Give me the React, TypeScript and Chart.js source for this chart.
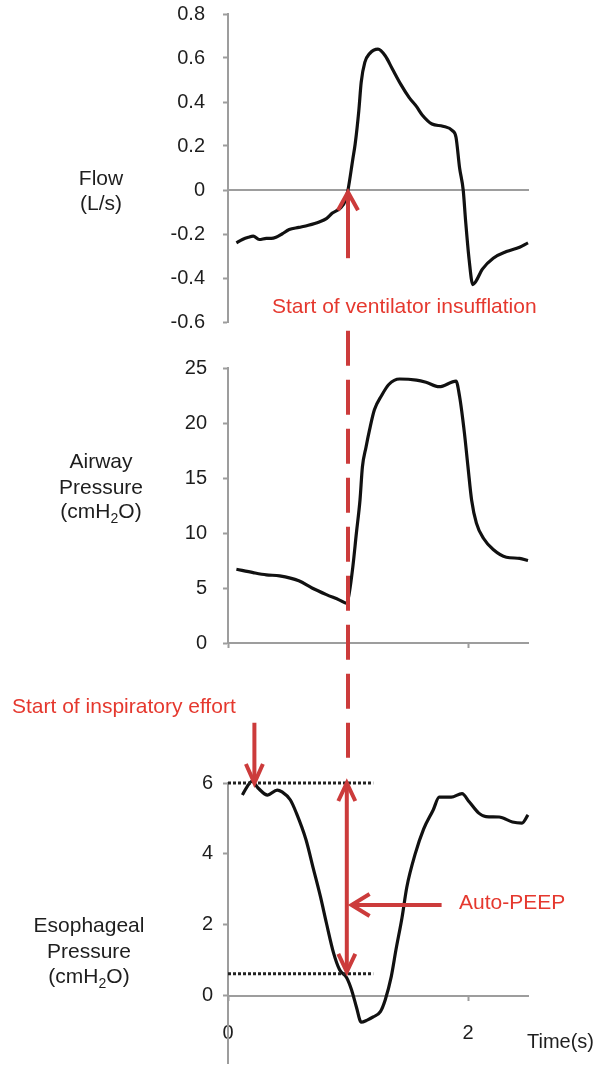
import React, { useEffect, useRef } from "react";
import { Chart, registerables } from "chart.js";

Chart.register(...registerables);

// ---------- data ----------
const flowT = [0.07, 0.12, 0.17, 0.21, 0.26, 0.32, 0.36, 0.4, 0.45, 0.51, 0.59, 0.67, 0.76, 0.82, 0.87, 0.94, 0.98, 1.0, 1.04, 1.06, 1.09, 1.11, 1.14, 1.18, 1.25, 1.31, 1.37, 1.44, 1.51, 1.57, 1.62, 1.7, 1.79, 1.87, 1.9, 1.93, 1.96, 1.98, 2.01, 2.04, 2.06, 2.12, 2.21, 2.32, 2.43, 2.5];
const flowV = [-0.24, -0.225, -0.215, -0.21, -0.225, -0.22, -0.22, -0.215, -0.2, -0.18, -0.17, -0.16, -0.145, -0.13, -0.105, -0.08, -0.045, 0.0, 0.14, 0.21, 0.36, 0.49, 0.58, 0.62, 0.64, 0.61, 0.55, 0.48, 0.42, 0.38, 0.34, 0.3, 0.29, 0.27, 0.24, 0.1, 0.0, -0.14, -0.32, -0.43, -0.42, -0.36, -0.31, -0.28, -0.26, -0.24];

const airT = [0.07, 0.21, 0.32, 0.43, 0.59, 0.7, 0.82, 0.93, 0.99, 1.01, 1.04, 1.07, 1.1, 1.12, 1.15, 1.18, 1.22, 1.28, 1.34, 1.43, 1.57, 1.65, 1.76, 1.9, 1.93, 1.97, 2.0, 2.03, 2.07, 2.13, 2.21, 2.32, 2.43, 2.5];
const airV = [6.7, 6.4, 6.2, 6.1, 5.65, 5.0, 4.4, 3.9, 3.6, 4.5, 6.9, 10.0, 13.0, 16.0, 17.8, 19.4, 21.2, 22.5, 23.5, 24.0, 23.9, 23.7, 23.3, 23.8, 22.4, 19.1, 16.0, 13.0, 10.9, 9.5, 8.5, 7.8, 7.7, 7.5];

const esoT = [0.12, 0.16, 0.2, 0.25, 0.33, 0.41, 0.45, 0.52, 0.57, 0.65, 0.71, 0.77, 0.82, 0.88, 0.93, 0.99, 1.03, 1.07, 1.11, 1.16, 1.21, 1.27, 1.31, 1.36, 1.4, 1.45, 1.49, 1.56, 1.63, 1.71, 1.76, 1.86, 1.95, 2.01, 2.09, 2.15, 2.26, 2.37, 2.45, 2.5];
const esoV = [5.66, 5.9, 6.05, 5.86, 5.66, 5.8, 5.75, 5.52, 5.15, 4.4, 3.6, 2.8, 2.05, 1.2, 0.73, 0.5, 0.16, -0.32, -0.75, -0.69, -0.6, -0.45, -0.12, 0.53, 1.3, 2.2, 3.06, 4.0, 4.7, 5.24, 5.6, 5.6, 5.7, 5.47, 5.15, 5.05, 5.04, 4.9, 4.87, 5.1];

const flowTicks = [-0.6, -0.4, -0.2, 0, 0.2, 0.4, 0.6, 0.8];
const airTicks = [0, 5, 10, 15, 20, 25];
const esoTicks = [0, 2, 4, 6];
const timeTicks = [0, 2];

const esoLevelHigh = 6;
const esoLevelLow = 0.62;
const levelEndT = 1.21;

const insufflationT = 1.0;
const effortT = 0.22;
const autoPeepT = 0.99;

// ---------- style ----------
const FONT = '"Liberation Sans", Arial, Helvetica, sans-serif';
const AXIS = "#9d9d9d";
const INK = "#1e1e1e";
const RED_TEXT = "#e5382e";
const RED_MARK = "#cc3b3b";
const AXIS_X = 228;
const FLOW_SHIFT = 40; // flow canvas is raised so its tick-label padding fits

const pts = (t: number[], v: number[]) => t.map((x, i) => ({ x, y: v[i] }));
const fmt = (v: number) => String(Math.round(v * 10) / 10);

function yScale(min: number, max: number, ticks: number[], padding: number) {
  return {
    type: "linear",
    min,
    max,
    afterFit: (s: any) => {
      s.width = AXIS_X;
    },
    afterBuildTicks: (s: any) => {
      s.ticks = ticks.map((v) => ({ value: v }));
    },
    grid: { drawOnChartArea: false, drawTicks: true, tickLength: 5, tickColor: AXIS, tickWidth: 2 },
    border: { color: AXIS, width: 2 },
    ticks: { color: INK, font: { size: 20, family: FONT }, padding, callback: (v: any) => fmt(Number(v)) },
  };
}

function xScale(showLabels: boolean, drawTicks: boolean) {
  return {
    type: "linear",
    min: 0,
    max: 2.5,
    position: { y: 0 },
    afterBuildTicks: (s: any) => {
      s.ticks = timeTicks.map((v) => ({ value: v }));
    },
    grid: { drawOnChartArea: false, drawTicks, tickLength: 4, tickColor: AXIS, tickWidth: 2 },
    border: { color: AXIS, width: 2 },
    ticks: { display: showLabels, color: INK, font: { size: 20, family: FONT }, padding: 22, maxRotation: 0 },
  };
}

function curve(data: { x: number; y: number }[]) {
  return {
    data,
    borderColor: "#111",
    borderWidth: 3.2,
    pointRadius: 0,
    cubicInterpolationMode: "monotone",
    clip: false,
  };
}

function baseOptions(pad: { top: number; bottom: number }, y: any, x: any) {
  return {
    responsive: false,
    animation: false,
    events: [],
    layout: { padding: { left: 0, right: 72, top: pad.top, bottom: pad.bottom } },
    plugins: { legend: { display: false }, tooltip: { enabled: false }, title: { display: false } },
    scales: { x, y },
  };
}

function drawArrowHead(ctx: CanvasRenderingContext2D, tx: number, ty: number, dx: number, dy: number, len: number, half: number) {
  const bx = tx - dx * len;
  const by = ty - dy * len;
  const px = -dy;
  const py = dx;
  ctx.beginPath();
  ctx.moveTo(bx + px * half, by + py * half);
  ctx.lineTo(tx, ty);
  ctx.lineTo(bx - px * half, by - py * half);
  ctx.stroke();
}

function drawLine(ctx: CanvasRenderingContext2D, x1: number, y1: number, x2: number, y2: number) {
  ctx.beginPath();
  ctx.moveTo(x1, y1);
  ctx.lineTo(x2, y2);
  ctx.stroke();
}

type Seg = { t: string; sub?: boolean };
function drawTitle(ctx: CanvasRenderingContext2D, lines: Seg[][], cx: number, baselines: number[]) {
  ctx.fillStyle = INK;
  ctx.textBaseline = "alphabetic";
  ctx.textAlign = "left";
  lines.forEach((segs, i) => {
    let w = 0;
    segs.forEach((s) => {
      ctx.font = `${s.sub ? 14 : 21}px ${FONT}`;
      w += ctx.measureText(s.t).width;
    });
    let x = cx - w / 2;
    segs.forEach((s) => {
      ctx.font = `${s.sub ? 14 : 21}px ${FONT}`;
      ctx.fillText(s.t, x, baselines[i] + (s.sub ? 5 : 0));
      x += ctx.measureText(s.t).width;
    });
  });
}

const unitLine: Seg[] = [{ t: "(cmH" }, { t: "2", sub: true }, { t: "O)" }];

function overlayPlugin(flow: Chart) {
  return {
    id: "overlay",
    afterDraw(chart: any) {
      const ctx: CanvasRenderingContext2D = chart.ctx;
      const xs = chart.scales.x;
      const ys = chart.scales.y;
      const fScale = (flow as any).scales.y;
      const fy = (v: number) => fScale.getPixelForValue(v) - FLOW_SHIFT;
      ctx.save();

      // titles
      drawTitle(ctx, [[{ t: "Flow" }], [{ t: "(L/s)" }]], 101, [185, 210]);
      drawTitle(ctx, [[{ t: "Airway" }], [{ t: "Pressure" }], unitLine], 101, [468, 494, 518]);
      drawTitle(ctx, [[{ t: "Esophageal" }], [{ t: "Pressure" }], unitLine], 89, [932, 958, 983]);
      ctx.font = `20px ${FONT}`;
      ctx.fillText("Time(s)", 527, 1048);

      ctx.strokeStyle = RED_MARK;
      ctx.lineWidth = 4;
      ctx.lineCap = "butt";
      ctx.lineJoin = "miter";

      // dashed vertical line (insufflation)
      const xi = xs.getPixelForValue(insufflationT);
      ctx.setLineDash([35, 14]);
      drawLine(ctx, xi, fy(-0.64), xi, ys.getPixelForValue(6.37));
      ctx.setLineDash([]);

      // up arrow in flow panel
      const upTip = fy(-0.01);
      drawLine(ctx, xi, fy(-0.31), xi, upTip + 2);
      drawArrowHead(ctx, xi, upTip, 0, -1, 18, 10);

      // effort arrow
      const xe = xs.getPixelForValue(effortT);
      const effTip = ys.getPixelForValue(esoLevelHigh);
      drawLine(ctx, xe, ys.getPixelForValue(7.7), xe, effTip - 2);
      drawArrowHead(ctx, xe, effTip, 0, 1, 19, 8.5);

      // double arrow (auto-PEEP extent)
      const xa = xs.getPixelForValue(autoPeepT);
      const top = ys.getPixelForValue(esoLevelHigh);
      const bot = ys.getPixelForValue(esoLevelLow + 0.05);
      drawLine(ctx, xa, top + 2, xa, bot - 2);
      drawArrowHead(ctx, xa, top, 0, -1, 18, 8.5);
      drawArrowHead(ctx, xa, bot, 0, 1, 18, 8.5);

      // horizontal pointer arrow
      const yh = ys.getPixelForValue(2.56);
      const hx1 = xs.getPixelForValue(1.78);
      const hx2 = xs.getPixelForValue(1.03);
      drawLine(ctx, hx1, yh, hx2 + 2, yh);
      drawArrowHead(ctx, hx2, yh, -1, 0, 18, 11);

      // red texts
      ctx.fillStyle = RED_TEXT;
      ctx.font = `21px ${FONT}`;
      ctx.textAlign = "left";
      ctx.fillText("Start of ventilator insufflation", 272, 313);
      ctx.fillText("Start of inspiratory effort", 12, 713);
      ctx.fillText("Auto-PEEP", 459, 909);

      ctx.restore();
    },
  };
}

export default function App() {
  const r1 = useRef<HTMLCanvasElement>(null);
  const r2 = useRef<HTMLCanvasElement>(null);
  const r3 = useRef<HTMLCanvasElement>(null);

  useEffect(() => {
    const flow = new Chart(r1.current as HTMLCanvasElement, {
      type: "line",
      data: { datasets: [curve(pts(flowT, flowV)) as any] },
      options: baseOptions({ top: 14 + FLOW_SHIFT, bottom: 1066 - 322 }, yScale(-0.6, 0.8, flowTicks, 18), xScale(false, false)) as any,
    });
    const air = new Chart(r2.current as HTMLCanvasElement, {
      type: "line",
      data: { datasets: [curve(pts(airT, airV)) as any] },
      options: baseOptions({ top: 368, bottom: 1066 - 643 }, yScale(0, 25, airTicks, 16), xScale(false, true)) as any,
    });
    const dotted = (level: number) => ({
      data: [
        { x: 0, y: level },
        { x: levelEndT, y: level },
      ],
      borderColor: "#222",
      borderWidth: 3,
      borderDash: [3, 2],
      pointRadius: 0,
      clip: false,
    });
    const eso = new Chart(r3.current as HTMLCanvasElement, {
      type: "line",
      data: { datasets: [dotted(esoLevelHigh) as any, dotted(esoLevelLow) as any, curve(pts(esoT, esoV)) as any] },
      options: baseOptions({ top: 783, bottom: 1100 - 1063 }, yScale(-1.9, 6, esoTicks, 10), xScale(true, true)) as any,
      plugins: [overlayPlugin(flow) as any],
    });
    return () => {
      eso.destroy();
      air.destroy();
      flow.destroy();
    };
  }, []);

  const cs: React.CSSProperties = { position: "absolute", left: 0, top: 0 };
  return (
    <div style={{ position: "absolute", left: 0, top: 0, width: 600, height: 1066, overflow: "hidden", background: "#fff" }}>
      <canvas ref={r1} width={600} height={1066 + FLOW_SHIFT} style={{ position: "absolute", left: 0, top: -FLOW_SHIFT }} />
      <canvas ref={r2} width={600} height={1066} style={cs} />
      <canvas ref={r3} width={600} height={1100} style={cs} />
    </div>
  );
}
